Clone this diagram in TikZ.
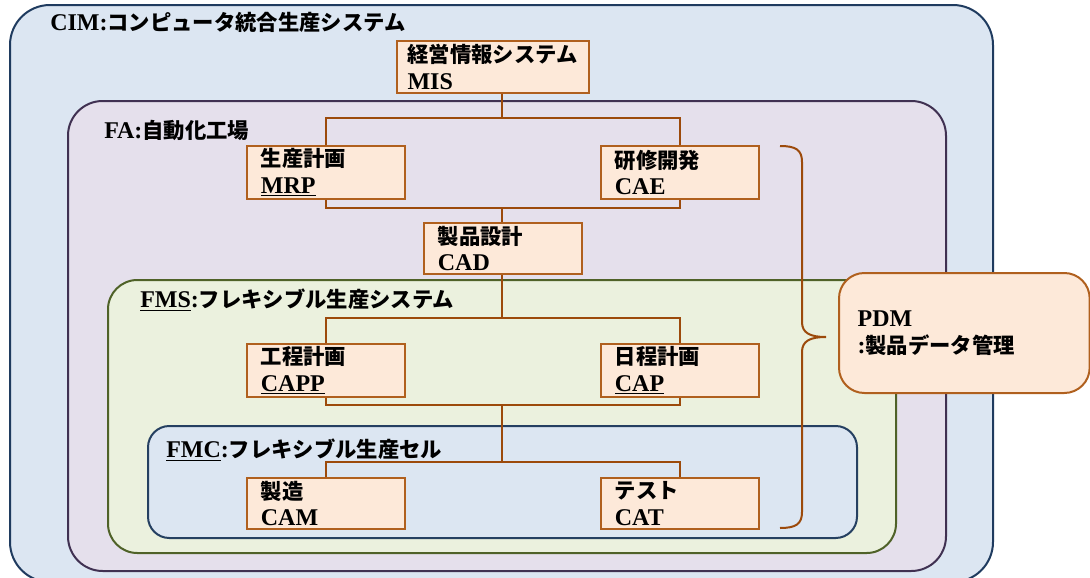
\documentclass[tikz,border=0pt]{standalone}
\usepackage{fontspec}
\setmainfont{Liberation Serif}
\newfontfamily\jf{Noto Sans CJK JP}
\newcommand\J[1]{{\jf\fontsize{16}{20}\selectfont #1}}
\definecolor{cimf}{HTML}{DCE6F2}
\definecolor{cimd}{HTML}{1F3B5F}
\definecolor{faf}{HTML}{E5E0EC}
\definecolor{fad}{HTML}{403152}
\definecolor{fmsf}{HTML}{EBF1DE}
\definecolor{fmsd}{HTML}{4F6228}
\definecolor{fmcf}{HTML}{DCE6F2}
\definecolor{fmcd}{HTML}{254061}
\definecolor{boxf}{HTML}{FDE9D9}
\definecolor{boxd}{HTML}{B0601E}
\definecolor{lnc}{HTML}{9C4A0B}
\begin{document}
\begin{tikzpicture}[x=0.75pt,y=-0.75pt,
  cont/.style={line width=1.5pt},
  lbl/.style={anchor=west,inner sep=0pt,font=\fontsize{18}{20}\selectfont\bfseries},
  box/.style={draw=boxd,fill=boxf,line width=1.3pt,anchor=north west,
    minimum width=118.5pt,minimum height=39.75pt,text width=97.5pt,
    align=left,inner xsep=10.5pt,inner ysep=0pt,
    font=\fontsize{18}{20}\selectfont\bfseries},
  conn/.style={draw=lnc,line width=1.5pt}]
\useasboundingbox (0,0) rectangle (1090,578);
% containers
\draw[cont,draw=cimd,fill=cimf,rounded corners=30pt] (10,5) rectangle (993,582);
\draw[cont,draw=fad,fill=faf,rounded corners=26pt] (68,101) rectangle (946,571);
\draw[cont,draw=fmsd,fill=fmsf,rounded corners=22pt] (108,280) rectangle (896,553);
\draw[cont,draw=fmcd,fill=fmcf,rounded corners=16pt] (148,426) rectangle (857,538);
\node[lbl] (lcim) at (50,22) {CIM:\J{コンピュータ統合生産システム}};
\node[lbl] (lfa) at (104,130) {FA:\J{自動化工場}};
\node[lbl] (lfms) at (140,300) {\underline{FMS}:\J{フレキシブル生産システム}};
\node[lbl] (lfmc) at (166,450) {\underline{FMC}:\J{フレキシブル生産セル}};
% boxes
\node[box,minimum width=144pt,minimum height=39pt,text width=128pt,inner xsep=8pt] (mis) at (396,40) {\J{経営情報システム}\\MIS};
\node[box] (mrp) at (246,145) {\J{生産計画}\\\underline{MRP}};
\node[box] (cae) at (600,145) {\J{研修開発}\\CAE};
\node[box,minimum height=38.25pt] (cad) at (423,222) {\J{製品設計}\\CAD};
\node[box] (capp) at (246,343) {\J{工程計画}\\\underline{CAPP}};
\node[box] (cap) at (600,343) {\J{日程計画}\\\underline{CAP}};
\node[box,minimum height=38.25pt] (cam) at (246,477) {\J{製造}\\CAM};
\node[box,minimum height=38.25pt] (cat) at (600,477) {\J{テスト}\\CAT};
% connectors
\coordinate (j1) at (502,118);
\coordinate (j2) at (502,208);
\coordinate (j3) at (502,318);
\coordinate (j4) at (502,405);
\coordinate (j5) at (502,462);
\draw[conn] (j1 |- mis.south) -- (j1);
\draw[conn] (mrp.north) |- (j1) -| (cae.north);
\draw[conn] (mrp.south) |- (j2) -| (cae.south);
\draw[conn] (j2) -- (j2 |- cad.north);
\draw[conn] (j3 |- cad.south) -- (j3);
\draw[conn] (capp.north) |- (j3) -| (cap.north);
\draw[conn] (capp.south) |- (j4) -| (cap.south);
\draw[conn] (j4) -- (j5);
\draw[conn] (cam.north) |- (j5) -| (cat.north);
% brace
\draw[conn] (780,146) .. controls (796,146) and (802,150) .. (802,162)
  -- (802,322) .. controls (802,333) and (810,337) .. (826,337)
  .. controls (810,337) and (802,341) .. (802,352)
  -- (802,512) .. controls (802,524) and (796,528) .. (780,528);
% PDM
\node[draw=boxd,fill=boxf,line width=1.5pt,rounded corners=19pt,anchor=north west,
  minimum width=188pt,minimum height=90pt,text width=160pt,align=left,inner xsep=14pt,
  font=\fontsize{18}{20}\selectfont\bfseries] (pdm) at (838,272) {PDM\\:\J{製品データ管理}};
\end{tikzpicture}
\end{document}
